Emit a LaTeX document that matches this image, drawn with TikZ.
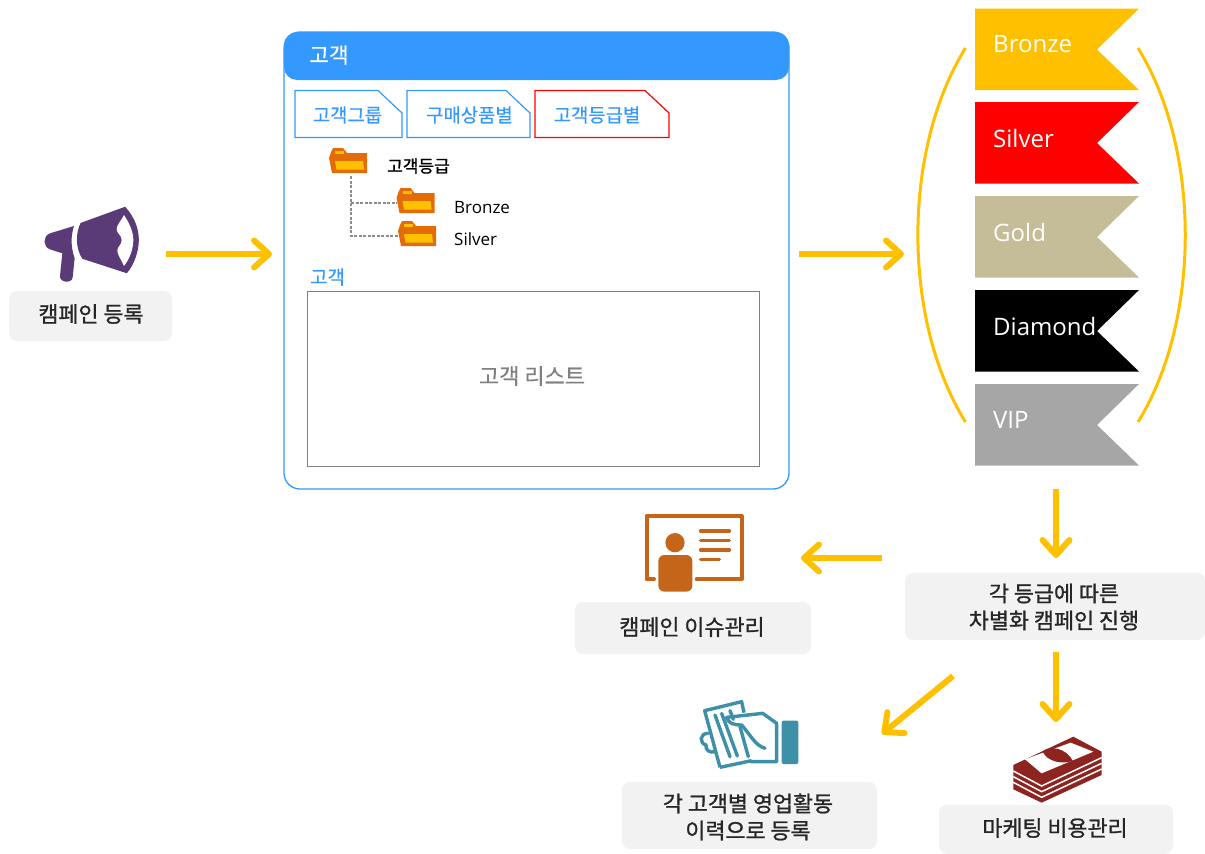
\documentclass[tikz,border=0pt]{standalone}
\usepackage{fontspec}
\setmainfont{Open Sans}
\newfontfamily\kr{Noto Sans CJK KR}
\newfontfamily\krm[FakeBold=1]{Noto Sans CJK KR}
\newfontfamily\krl[FakeBold=0.3]{Noto Sans CJK KR}
\usetikzlibrary{arrows.meta}
\definecolor{amber}{HTML}{FFC000}
\definecolor{skyb}{HTML}{3399FF}
\definecolor{boxg}{HTML}{F2F2F2}
\definecolor{purp}{HTML}{5A3B78}
\definecolor{ochre}{HTML}{C5651A}
\definecolor{teal2}{HTML}{3E8FA8}
\definecolor{wine}{HTML}{8E2420}
\definecolor{foldo}{HTML}{E36C09}
\definecolor{khaki}{HTML}{C4BD97}
\definecolor{flaggray}{HTML}{A6A6A6}
\tikzset{
  flow/.style={draw=amber,line width=6pt,-{Straight Barb[length=15pt,width=27pt,line width=6pt,round]}},
  labelbg/.style={fill=boxg,rounded corners=8pt},
  labeltext/.style={font=\krm\fontsize{21.8}{27}\selectfont,align=center,text=black!85,inner sep=0pt},
  tabbox/.style={draw=#1,fill=white,line width=1.2pt,line join=miter},
  tabtext/.style={text=skyb,font=\krl\fontsize{18.8}{22}\selectfont,inner sep=0pt},
  flagtext/.style={anchor=west,font=\fontsize{24}{28}\selectfont,inner sep=0pt},
  treetext/.style={anchor=west,font=\fontsize{17}{20}\selectfont,inner sep=0pt,text=black},
  treeline/.style={draw=black!45,line width=1.2pt,dash pattern=on 3pt off 1.5pt},
  ribbon/.style={draw=amber,line width=3pt},
  folder/.pic={
    \fill[foldo,line join=round] (0,10) -- (2,4) -- (4,0) -- (14,0) -- (18,5) -- (38,5) -- (38,25) -- (3,25) -- cycle;
    \fill[amber] (6,13) -- (34,13) -- (35,21.5) -- (7.5,21.5) -- cycle;
    \fill[amber] (6,3) rectangle (15,5.5);
  }
}
\begin{document}
\begin{tikzpicture}[x=1pt,y=-1pt]
\useasboundingbox (0,0) rectangle (1205,854);

% grey labels
\path[labelbg] (9,291) rectangle (172,341);
\node[labeltext] (reg) at (91,314) {캠페인 등록};
\path[labelbg] (575,602) rectangle (811,654);
\node[labeltext] (issue) at (692,627) {캠페인 이슈관리};
\path[labelbg] (905,573) rectangle (1205,640);
\node[labeltext] (prog) at (1054,607) {각 등급에 따른\\차별화 캠페인 진행};
\path[labelbg] (622,782) rectangle (877,849);
\node[labeltext] (hist) at (748,817) {각 고객별 영업활동\\이력으로 등록};
\path[labelbg] (939,805) rectangle (1173,854);
\node[labeltext] (cost) at (1055,828) {마케팅 비용관리};

% customer panel
\draw[skyb,line width=1.3pt,rounded corners=16pt] (284,32) rectangle (789,489);
\fill[skyb,rounded corners=13pt] (284,32) rectangle (789,80);
\node[text=white,font=\krl\fontsize{21.5}{25}\selectfont,inner sep=0pt] (head) at (329,55) {고객};
\draw[tabbox=skyb] (295,90.5) -- (378,90.5) -- (402,113) -- (402,137.5) -- (295,137.5) -- cycle;
\node[tabtext] (tab1) at (347.5,115) {고객그룹};
\draw[tabbox=skyb] (407,90.5) -- (506,90.5) -- (530,113) -- (530,137.5) -- (407,137.5) -- cycle;
\node[tabtext] (tab2) at (469.5,115) {구매상품별};
\draw[tabbox=red] (535,90.5) -- (645,90.5) -- (669,113) -- (669,137.5) -- (535,137.5) -- cycle;
\node[tabtext] (tab3) at (597,115) {고객등급별};

% tree
\coordinate (trunk) at (351,176);
\coordinate (leaf1) at (397,203);
\coordinate (leaf2) at (398,236);
\draw[treeline] (trunk) |- (leaf1);
\draw[treeline] (trunk) |- (leaf2);
\pic at (329,148) {folder};
\pic at (396.5,188) {folder};
\pic at (398,221) {folder};
\node[anchor=west,inner sep=0pt,font=\krm\fontsize{17}{20}\selectfont,text=black] (t0) at (387,166) {고객등급};
\node[treetext] (t1) at (454,208) {Bronze};
\node[treetext] (t2) at (454,239) {Silver};

\node[anchor=west,inner sep=0pt,text=skyb,font=\krl\fontsize{18.8}{22}\selectfont] (sub) at (310,277) {고객};
\draw[black!50,line width=1pt] (307,291) rectangle (759,466);
\node[text=black!50,font=\krl\fontsize{22}{25}\selectfont,inner sep=0pt] (list) at (532,376) {고객 리스트};

% flags
\foreach \ya/\col/\txt in {8.5/amber/Bronze,102/red/Silver,196/khaki/Gold,290/black/Diamond,384/flaggray/VIP}{
  \fill[\col] (975,\ya) -- (1139,\ya) -- (1097,\ya+41) -- (1139,\ya+81.5) -- (975,\ya+81.5) -- cycle;
  \node[flagtext,text=white] at (993,\ya+36) {\txt};
}

% ribbons
\draw[ribbon] (965.5,48) .. controls (902,150) and (902,320) .. (965.5,422);
\draw[ribbon] (1138,48) .. controls (1201,150) and (1201,320) .. (1138,422);

% connectors
\coordinate (a1s) at (166,254); \coordinate (a1e) at (272,254);
\coordinate (a2s) at (799,254); \coordinate (a2e) at (904,254);
\coordinate (a3s) at (1056,489); \coordinate (a3e) at (1056,558);
\coordinate (a4s) at (882,558); \coordinate (a4e) at (801,558);
\coordinate (a5s) at (1056,652); \coordinate (a5e) at (1056,722);
\coordinate (a6s) at (953,676); \coordinate (a6e) at (882,734);
\foreach \s/\e in {a1s/a1e,a2s/a2e,a3s/a3e,a4s/a4e,a5s/a5e,a6s/a6e}{
  \draw[flow] (\s) -- (\e);
}

% megaphone
\begin{scope}[shift={(0,190)},x=0.3333pt,y=-0.3333pt]
  \fill[purp,line join=round,draw=purp,line width=1pt] (243,100) -- (375,52) .. controls (405,85) and (415,120) .. (415,150) .. controls (415,185) and (400,225) .. (380,248) -- (248,205) .. controls (228,175) and (228,130) .. (243,100) -- cycle;
  \fill[white] (372,75) .. controls (392,105) and (400,130) .. (400,150) .. controls (400,175) and (390,205) .. (372,228) .. controls (365,210) and (352,195) .. (352,182) .. controls (352,170) and (365,165) .. (365,150) .. controls (365,135) and (350,130) .. (350,118) .. controls (350,105) and (362,95) .. (372,75) -- cycle;
  \fill[purp] (222,108) -- (150,130) .. controls (128,138) and (128,170) .. (150,178) -- (187,190) -- (180,258) .. controls (178,278) and (216,282) .. (218,262) -- (224,205) .. controls (212,170) and (212,140) .. (222,108) -- cycle;
\end{scope}

% presenter
\begin{scope}[shift={(620,500)},x=0.3333pt,y=-0.3333pt]
  \draw[ochre,line width=4pt,line join=round,line cap=round] (102,238) -- (80,238) -- (80,48) -- (365,48) -- (365,238) -- (230,238);
  \foreach \yy/\xx in {93/328,122/328,150/328,178/298}{
    \draw[ochre,line width=3.5pt,line cap=round] (242,\yy) -- (\xx,\yy);
  }
  \fill[ochre] (165,128) circle[radius=29];
  \fill[ochre,rounded corners=6pt] (115,165) rectangle (217,275);
\end{scope}

% hand with bills
\begin{scope}[shift={(680,690)},x=0.3333pt,y=-0.3333pt]
  \fill[teal2,rounded corners=2pt] (305,92) rectangle (355,222);
  \draw[teal2,line width=3.4pt,line join=round] (120,232) -- (74,62) -- (185,35) -- (192,68);
  \draw[teal2,line width=3.4pt,line join=round] (120,232) -- (215,212);
  \draw[teal2,line width=3.4pt,line cap=round] (105,75) -- (150,200);
  \draw[teal2,line width=3.4pt,line cap=round] (125,70) -- (172,198);
  \draw[teal2,line width=3.4pt,line cap=round] (150,62) -- (160,88);
  \draw[teal2,line width=3.4pt,line join=round,line cap=round] (140,82) -- (248,70) -- (290,100) -- (290,215) -- (212,215);
  \draw[teal2,line width=3.4pt,line cap=round] (140,82) .. controls (145,100) and (160,105) .. (185,105) .. controls (215,140) and (225,165) .. (255,175);
  \draw[teal2,line width=3.4pt,line cap=round] (180,110) -- (205,200);
  \draw[teal2,line width=3.4pt,line cap=round] (84,130) .. controls (58,130) and (58,160) .. (78,165) .. controls (75,180) and (90,190) .. (105,185);
\end{scope}

% money
\begin{scope}[shift={(680,690)},x=0.3333pt,y=-0.3333pt]
  \fill[wine,line join=round] (1180,140) -- (1265,185) -- (1265,255) -- (1085,338) -- (1000,298) -- (1000,225) -- cycle;
  \foreach \dd in {18,35,52}{
    \draw[white,line width=1.5pt] (1000,225+\dd) -- (1085,270+\dd) -- (1265,185+\dd);
  }
  \fill[white] (1035,208) -- (1172,158) -- (1240,185) -- (1085,250) -- cycle;
  \fill[wine] (1088,184) .. controls (1110,165) and (1160,175) .. (1178,212) .. controls (1150,225) and (1100,215) .. (1088,184) -- cycle;
\end{scope}
\end{tikzpicture}
\end{document}
